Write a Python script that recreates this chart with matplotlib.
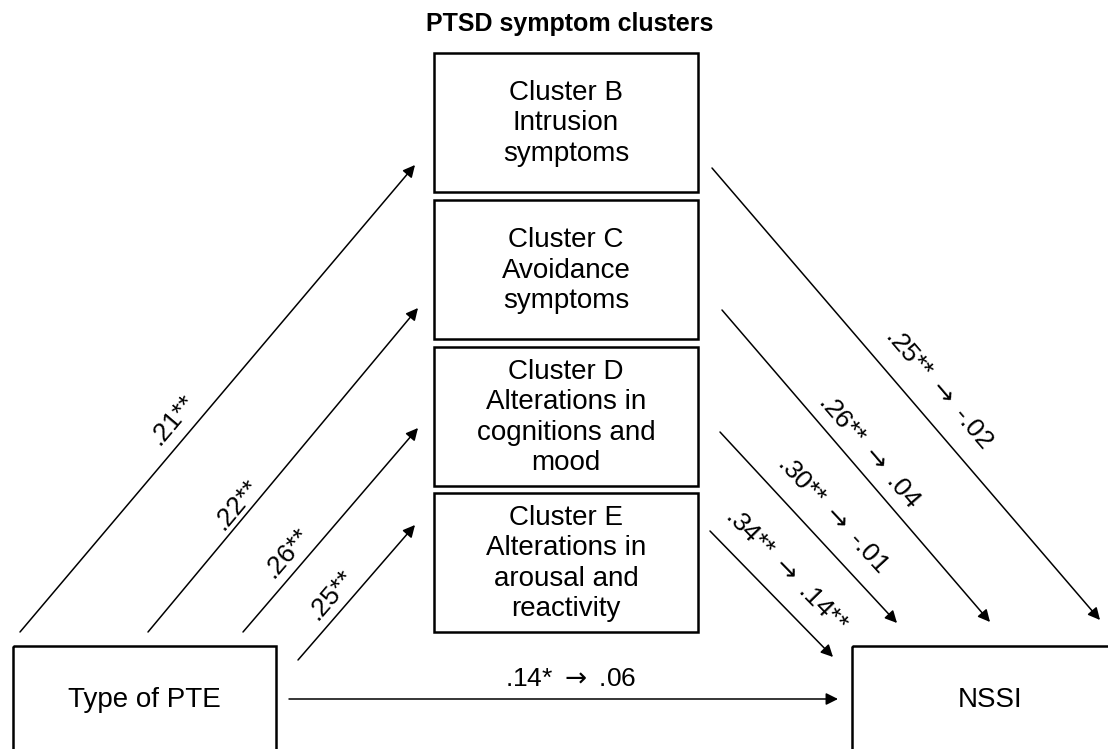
import matplotlib
matplotlib.use("Agg")
import matplotlib.pyplot as plt
from matplotlib.patches import Rectangle
import numpy as np

plt.rcParams['font.family'] = ['Liberation Sans', 'DejaVu Sans']
plt.rcParams['mathtext.fontset'] = 'dejavusans'

# --- content -------------------------------------------------------------
title = "PTSD symptom clusters"
cluster_labels = [
    "Cluster B\nIntrusion\nsymptoms",
    "Cluster C\nAvoidance\nsymptoms",
    "Cluster D\nAlterations in\ncognitions and\nmood",
    "Cluster E\nAlterations in\narousal and\nreactivity",
]
predictor = "Type of PTE"
outcome = "NSSI"
ARR = r"$\rightarrow$"
a_paths = [".21**", ".22**", ".26**", ".25**"]
b_paths = [".25** " + ARR + " -.02", ".26** " + ARR + " .04",
           ".30** " + ARR + " -.01", ".34** " + ARR + " .14**"]
c_path = ".14* " + ARR + " .06"

# --- layout (pixel space, origin top-left) -------------------------------
W, H = 1108, 749
box_x0, box_x1 = 434, 698
box_tops = [53, 200, 347, 493]
box_h = 139

# arrows from PTE to clusters: start, end, label fraction, horizontal offset
a_geom = [((20, 632), (415, 165), 0.454, -27),
          ((148, 632), (418, 308), 0.395, -18),
          ((243, 632), (418, 428), 0.387, -24),
          ((298, 660), (415, 525), 0.48, -23)]
# arrows from clusters to NSSI
b_geom = [((712, 168), (1100, 620), 0.487, 38),
          ((722, 310), (990, 622), 0.452, 26),
          ((720, 432), (897, 623), 0.43, 37),
          ((710, 531), (833, 657), 0.31, 38)]

fig = plt.figure(figsize=(W / 100, H / 100), dpi=100)
ax = fig.add_axes([0, 0, 1, 1])
ax.set_xlim(0, W)
ax.set_ylim(H, 0)
ax.axis('off')

ax.text(570, 24, title, ha='center', va='center', fontsize=18, fontweight='bold')

for top, lab in zip(box_tops, cluster_labels):
    ax.add_patch(Rectangle((box_x0, top), box_x1 - box_x0, box_h, fill=False, lw=1.8, ec='black'))
    ax.text((box_x0 + box_x1) / 2, top + box_h / 2 + 1, lab, ha='center', va='center',
            fontsize=20, linespacing=1.22)

# predictor and outcome boxes (run off the bottom edge)
ax.add_patch(Rectangle((13, 646), 263, 120, fill=False, lw=1.8, ec='black'))
ax.text(144, 700, predictor, ha='center', va='center', fontsize=20)
ax.add_patch(Rectangle((852, 646), 300, 120, fill=False, lw=1.8, ec='black'))
ax.text(990, 700, outcome, ha='center', va='center', fontsize=20)


def arrow(p0, p1):
    ax.annotate('', xy=p1, xytext=p0,
                arrowprops=dict(arrowstyle='-|>', lw=1.1, color='black',
                                mutation_scale=18, shrinkA=0, shrinkB=0))


def label(p0, p1, t, off, txt):
    x = p0[0] + t * (p1[0] - p0[0]) + off
    y = p0[1] + t * (p1[1] - p0[1])
    ang = -np.degrees(np.arctan2(p1[1] - p0[1], p1[0] - p0[0]))
    if ang < -90:
        ang += 180
    ax.text(x, y, txt, ha='center', va='center', fontsize=19,
            rotation=ang, rotation_mode='anchor')


for (p0, p1, t, off), txt in zip(a_geom, a_paths):
    arrow(p0, p1)
    label(p0, p1, t, off, txt)

for (p0, p1, t, off), txt in zip(b_geom, b_paths):
    arrow(p0, p1)
    label(p0, p1, t, off, txt)

arrow((289, 699), (838, 699))
ax.text(571, 679, c_path, ha='center', va='center', fontsize=19)

fig.savefig('out.png', dpi=100)
